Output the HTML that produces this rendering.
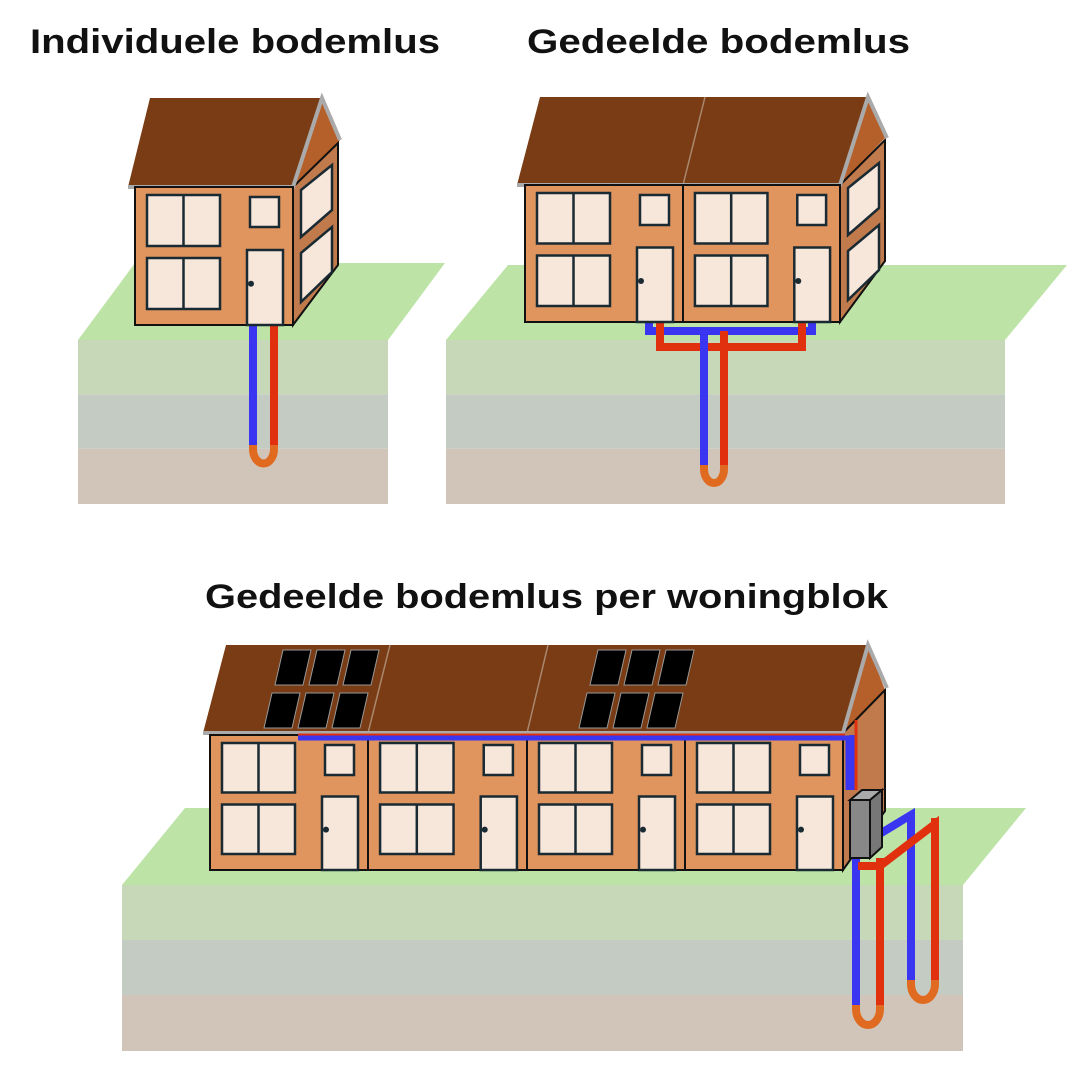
<!DOCTYPE html>
<html><head><meta charset="utf-8">
<style>
html,body{margin:0;padding:0;background:#fff;}
svg{display:block;}
text{font-family:"Liberation Sans",sans-serif;font-weight:bold;fill:#111;}
</style></head>
<body>
<svg id="s" width="1085" height="1069" viewBox="0 0 1085 1069" xmlns="http://www.w3.org/2000/svg">
<text x="30" y="53" font-size="34" textLength="410" lengthAdjust="spacingAndGlyphs">Individuele bodemlus</text>
<text x="527" y="53" font-size="34" textLength="383" lengthAdjust="spacingAndGlyphs">Gedeelde bodemlus</text>
<text x="205" y="608" font-size="34" textLength="683" lengthAdjust="spacingAndGlyphs">Gedeelde bodemlus per woningblok</text>
<g id="g"></g>
</svg>
<script>
const g=document.getElementById('g');let h='';
const P=(pts,f,st,sw)=>h+=`<polygon points="${pts}" fill="${f}" stroke="${st||'none'}" stroke-width="${sw||0}"/>`;
const R=(x,y,w,hh,f,st,sw)=>h+=`<rect x="${x}" y="${y}" width="${w}" height="${hh}" fill="${f}" stroke="${st||'none'}" stroke-width="${sw||0}"/>`;
const L=(d,c,w)=>h+=`<path d="${d}" fill="none" stroke="${c}" stroke-width="${w}" stroke-linejoin="miter"/>`;
function ground(x0,x1,ytop,yf,dx,ybot){
 P(`${x0},${yf} ${x0+dx},${ytop} ${x1+dx},${ytop} ${x1},${yf}`,'#bde3a7');
 const t=(ybot-yf)/3;
 R(x0,yf,x1-x0,t,'#c6d8b8');R(x0,yf+t,x1-x0,t,'#c3cbc3');R(x0,yf+2*t,x1-x0,t+1,'#d1c5ba');
}
function unit(x,y,w,hh){
 R(x,y,w,hh,'#e0955f','#111',2);
 const s=w/158;
 const bw=73*s;
 const y1=y+8, wh=(hh-30)/2-3;
 R(x+12*s,y1,bw,wh,'#f7e6da','#1a2a33',2.5);L(`M${x+12*s+bw/2} ${y1}V${y1+wh}`,'#1a2a33',2.5);
 R(x+12*s,y1+wh+12,bw,wh,'#f7e6da','#1a2a33',2.5);L(`M${x+12*s+bw/2} ${y1+wh+12}V${y1+2*wh+12}`,'#1a2a33',2.5);
 R(x+w-43*s,y+10,29*s,30,'#f7e6da','#1a2a33',2.5);
 const dy=y1+wh+4;
 R(x+w-46*s,dy,36*s,y+hh-dy,'#f7e6da','#1a2a33',2.5);
 h+=`<circle cx="${x+w-42*s}" cy="${dy+(y+hh-dy)*0.45}" r="3" fill="#1a2a33"/>`;
}
function side(x,y,hh,dx,dy,wins){
 P(`${x},${y} ${x+dx},${y-dy} ${x+dx},${y+hh-dy-16} ${x},${y+hh}`,'#c07a4c','#111',2);
 if(wins){
 P(`${x+8},${y+3} ${x+39},${y-22} ${x+39},${y+23} ${x+8},${y+50}`,'#f7e6da','#1a2a33',2.5);
 P(`${x+8},${y+66} ${x+39},${y+40} ${x+39},${y+85} ${x+8},${y+115}`,'#f7e6da','#1a2a33',2.5);}
}
function pipeU(xb,xr,y0,yb){
 L(`M${xb} ${y0}V${yb}`,'#3a35f0',8);L(`M${xr} ${y0}V${yb}`,'#e0300e',8);
 const r=(xr-xb)/2;
 L(`M${xb} ${yb}V${yb+4}A${r} ${r+4} 0 0 0 ${xr} ${yb+4}V${yb}`,'#e06a20',8);
}
// Block 1
ground(78,388,263,340,57,503);
pipeU(253,274,325,445);
P('293,187 322,98 340,140 338,143 293,187','#b5602a');
side(293,187,138,45,44,true);
P('128,187 150,98 322,98 293,187','#793c14');
L('M128 187H293L322 98L340 140','#aaa',4);
unit(135,187,158,138);
// Block 2
ground(446,1005,265,340,62,503);
L('M649 322V331H812V322','#3a35f0',8);
L('M660 322V347H802V322','#e0300e',8);
pipeU(704,724,331,465);
L('M724 347V331','#e0300e',8);L('M704 331V347','#3a35f0',8);
P('840,185 868,97 885,138 840,185','#b5602a');
side(840,185,137,45,45,true);
P('517,185 540,97 868,97 840,185','#793c14');
L('M683 185L705 97','#aa8870',1.5);
L('M517 185H840L868 97L887 138','#aaa',4);
unit(525,185,158,137);unit(683,185,157,137);
// Block 3
ground(122,963,808,885,63,1050);
P('843,733 868,645 885,690 843,733','#b5602a');
side(843,733,137,42,43,false);
P('203,733 226,645 868,645 843,733','#793c14');
[[368,390],[527,548]].forEach(a=>L(`M${a[0]} 733L${a[1]} 645`,'#aa8870',1.5));
L('M203 733H843L868 645L887 688','#aaa',4);
function panels(x0){for(let r=0;r<2;r++)for(let c=0;c<3;c++){const y=650+r*43,x=x0+c*34-r*11;
 P(`${x+8},${y} ${x+36},${y} ${x+28},${y+35} ${x},${y+35}`,'#000','#999',1);}}
panels(275);panels(590);
unit(210,735,158,135);unit(368,735,159,135);unit(527,735,158,135);unit(685,735,158,135);
L('M298 735H845','#e0300e',3);L('M298 738H848V790','#3a35f0',5);L('M856 720V790','#e0300e',3);L('M852 735V790','#3a35f0',5);
pipeU(856,880,858,1005);
pipeU(911,935,818,980);
L('M873 838L911 815V825','#3a35f0',8);
L('M858 866H880L935 824V830','#e0300e',8);
L('M880 866V880','#e0300e',8);
P('850,800 862,790 882,790 870,800','#aaa','#111',2);
P('870,800 882,790 882,847 870,858','#777','#111',2);
R(850,800,20,58,'#888','#111',2);
g.innerHTML=h;
</script>
</body></html>
